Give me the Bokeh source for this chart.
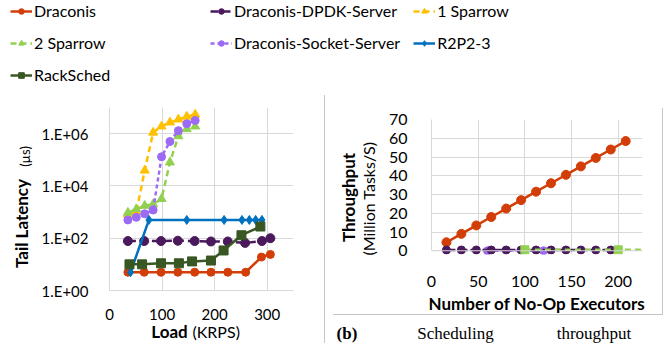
import math
from bokeh.plotting import figure
from bokeh.models import (Range1d, FixedTicker, Legend, LegendItem, Label, Div, Span,
                          ColumnDataSource, Title)
from bokeh.layouts import column, row
from bokeh.embed import file_html
from bokeh.resources import INLINE

FONT = "Lato"
SERIF = "Liberation Serif"

# ---------------- Panel (a): tail latency vs load ----------------
load_draconis = [35, 66, 98, 130, 162, 193, 225, 259, 289, 306]
lat_draconis = [5, 5, 5, 5, 5, 5, 5, 5, 19, 24]
load_dpdk = [35, 66, 98, 130, 162, 193, 225, 258, 290, 306]
lat_dpdk = [78, 78, 78, 80, 78, 75, 75, 66, 78, 100]
load_sparrow1 = [35, 51, 67, 83, 99, 115, 131, 147, 163]
lat_sparrow1 = [800, 1000, 3.9e4, 1.1e6, 1.9e6, 2.7e6, 3.5e6, 4.5e6, 5.4e6]
load_sparrow2 = [35, 51, 67, 83, 99, 115, 131, 147, 163]
lat_sparrow2 = [950, 1300, 1750, 2000, 3200, 8e4, 8e5, 1.5e6, 1.9e6]
load_socket = [35, 51, 67, 83, 99, 115, 131, 147, 163]
lat_socket = [500, 630, 860, 1200, 1.3e5, 5e5, 1.3e6, 2.4e6, 3.2e6]
load_r2p2 = [40, 75, 147, 218, 252, 266, 278, 290]
lat_r2p2 = [5, 500, 500, 500, 500, 500, 500, 500]
load_racksched = [38, 62, 98, 132, 157, 193, 217, 251, 287]
lat_racksched = [10, 10, 11, 11, 13, 14, 34, 130, 280]

load_ticks = [0, 100, 200, 300]
lat_ticks = [1, 100, 10000, 1000000]
lat_tick_labels = ["1.E+00", "1.E+02", "1.E+04", "1.E+06"]

# ---------------- Panel (b): scheduling throughput ----------------
exec_draconis = [16, 32, 48, 64, 80, 96, 112, 128, 144, 160, 176, 192, 208]
tput_draconis = [4.5, 9.0, 13.5, 18.0, 22.5, 27.0, 31.5, 36.0, 40.5, 45.0, 49.5, 54.0, 58.5]
exec_dpdk = [16, 32, 48, 64, 80, 96, 112, 128, 144, 160, 176, 192]
tput_dpdk = [0.4, 0.4, 0.4, 0.4, 0.4, 0.4, 0.4, 0.4, 0.4, 0.4, 0.4, 0.4]
exec_socket = [60, 120]
tput_socket = [0.0, 0.0]
exec_other = [100, 200, 300]
tput_other = [0.5, 0.5, 0.5]

exec_ticks = [0, 50, 100, 150, 200]
tput_ticks = [0, 10, 20, 30, 40, 50, 60, 70]

# ---------------- series styles ----------------
names = ["Draconis", "Draconis-DPDK-Server", "1 Sparrow", "2 Sparrow",
         "Draconis-Socket-Server", "R2P2-3", "RackSched"]
colors = {"Draconis": "#D33E08", "Draconis-DPDK-Server": "#4A1A5C", "1 Sparrow": "#FFC000",
          "2 Sparrow": "#92D050", "Draconis-Socket-Server": "#9C6BF5", "R2P2-3": "#0070C0",
          "RackSched": "#385723"}
markers = {"Draconis": "circle", "Draconis-DPDK-Server": "circle", "1 Sparrow": "triangle",
           "2 Sparrow": "triangle", "Draconis-Socket-Server": "circle", "R2P2-3": "diamond",
           "RackSched": "square"}
sizes = {"Draconis": 8, "Draconis-DPDK-Server": 9, "1 Sparrow": 9, "2 Sparrow": 9,
         "Draconis-Socket-Server": 8, "R2P2-3": 9, "RackSched": 9}
dashes = {"Draconis": "solid", "Draconis-DPDK-Server": "8 4", "1 Sparrow": "6 4",
          "2 Sparrow": "6 4", "Draconis-Socket-Server": "4 3", "R2P2-3": "solid",
          "RackSched": "solid"}

GRID = "#D9D9D9"
FRAME = "#C4C4C4"


def draw(p, xs, ys, name, dash=None, marker=None, color=None, size=None, lw=2.5):
    color = color or colors[name]
    src = ColumnDataSource(dict(x=xs, y=ys))
    ln = p.line("x", "y", source=src, line_color=color, line_width=lw,
                line_dash=dash or dashes[name])
    sc = p.scatter("x", "y", source=src, marker=marker or markers[name],
                   size=size or sizes[name], fill_color=color, line_color=color)
    return [ln, sc]


def style_axes(p, font_size):
    p.outline_line_color = None
    p.grid.grid_line_color = GRID
    p.axis.axis_line_color = GRID
    p.axis.major_tick_line_color = None
    p.axis.minor_tick_line_color = None
    p.axis.major_label_text_font = FONT
    p.axis.major_label_text_font_size = font_size
    p.axis.major_label_text_color = "#000000"


def text_box(w, h, x0=0, bl=0, br=0):
    """A blank figure used only to hold text labels (data units = pixels)."""
    fw = w - bl - br
    f = figure(width=w, height=h, x_range=Range1d(x0, x0 + fw), y_range=Range1d(0, h),
               x_axis_location=None, y_axis_location=None, min_border=0,
               min_border_left=bl, min_border_right=br,
               output_backend="svg", toolbar_location=None)
    f.grid.visible = False
    f.outline_line_color = None
    return f


def lab(f, x, y, text, size="16px", bold=False, angle=0.0, align="center",
        baseline="middle", font=FONT):
    f.add_layout(Label(x=x, y=y, text=text, angle=angle, text_font=font,
                       text_font_size=size, text_font_style="bold" if bold else "normal",
                       text_align=align, text_baseline=baseline, text_color="#000000"))


def rule_div(w, h, line_w, line_h, off_x, off_y):
    """An empty block that paints one thin frame line (no text, no data)."""
    return Div(width=w, height=h, margin=0, styles={
        "background-image": "linear-gradient(%s, %s)" % (FRAME, FRAME),
        "background-repeat": "no-repeat",
        "background-size": "%dpx %dpx" % (line_w, line_h),
        "background-position": "%dpx %dpx" % (off_x, off_y)})


# ---------------- legend strip ----------------
leg = figure(width=665, height=95, x_range=Range1d(0, 1), y_range=Range1d(0, 1),
             x_axis_location=None, y_axis_location=None, min_border=0,
             output_backend="svg", toolbar_location=None)
leg.grid.visible = False
leg.outline_line_color = None
items = []
for n in names:
    rs = draw(leg, [5, 6], [5, 5], n)   # outside the visible range; only the legend shows
    items.append(LegendItem(label=n, renderers=rs))
legend = Legend(items=items, location=(10, 11), orientation="horizontal", ncols=3,
                glyph_width=22, glyph_height=14, label_height=14, label_width=163,
                label_standoff=2, spacing=13, padding=0, margin=0,
                border_line_color=None, background_fill_alpha=0,
                label_text_font=FONT, label_text_font_size="16px",
                label_text_color="#000000")
leg.add_layout(legend, "center")

# ---------------- left chart ----------------
ylab_l = text_box(38, 248)
lab(ylab_l, 21, 120, "Tail Latency", size="17px", bold=True, angle=math.pi / 2)
lab(ylab_l, 24, 187, "(\u00b5s)", size="13px", angle=math.pi / 2)

left = figure(width=286, height=227, x_range=Range1d(0, 350), y_range=Range1d(1, 1e7),
              y_axis_type="log", min_border_left=62, min_border_right=31,
              min_border_top=12, min_border_bottom=32,
              output_backend="svg", toolbar_location=None)
style_axes(left, "15px")
left.xaxis.ticker = FixedTicker(ticks=load_ticks)
left.yaxis.ticker = FixedTicker(ticks=lat_ticks)
left.yaxis.major_label_overrides = dict(zip(lat_ticks, lat_tick_labels))
left.yaxis.major_label_standoff = 15
left.xaxis.major_label_standoff = 12

draw(left, load_draconis, lat_draconis, "Draconis")
draw(left, load_dpdk, lat_dpdk, "Draconis-DPDK-Server")
draw(left, load_sparrow1, lat_sparrow1, "1 Sparrow")
draw(left, load_sparrow2, lat_sparrow2, "2 Sparrow")
draw(left, load_socket, lat_socket, "Draconis-Socket-Server")
draw(left, load_r2p2, lat_r2p2, "R2P2-3")
draw(left, load_racksched, lat_racksched, "RackSched")

# same frame geometry as the chart above it (x data units = page pixels)
xlab_l = text_box(286, 21, x0=100, bl=62, br=31)
lab(xlab_l, 182, 12, "Load", size="17px", bold=True, align="right")
lab(xlab_l, 187, 12, "(KRPS)", align="left")

left_block = row(ylab_l, column(left, xlab_l))

# ---------------- separator ----------------
sep = Div(width=1, height=248, margin=0, styles={"background-color": FRAME})

# ---------------- right chart ----------------
ylab_r = text_box(60, 219)
lab(ylab_r, 23, 117, "Throughput", size="17px", bold=True, angle=math.pi / 2)
lab(ylab_r, 43, 116, "(Million Tasks/S)", angle=math.pi / 2)

right = figure(width=277, height=219, x_range=Range1d(0, 226), y_range=Range1d(-2, 70),
               min_border_left=42, min_border_right=20, min_border_top=24,
               min_border_bottom=58, output_backend="svg", toolbar_location=None)
style_axes(right, "16px")
right.xaxis.ticker = FixedTicker(ticks=exec_ticks)
right.yaxis.ticker = FixedTicker(ticks=tput_ticks)
right.yaxis.bounds = (0, 70)
right.xaxis.axis_line_color = None
right.yaxis.major_label_standoff = 18
right.xaxis.major_label_standoff = 15
right.add_layout(Span(location=0, dimension="width", line_color=GRID, line_width=1))
right.add_layout(Title(text="Number of No-Op Executors", align="center", offset=-20,
                       standoff=2, text_font=FONT, text_font_size="17px",
                       text_font_style="bold", text_color="#000000"), "below")

draw(right, exec_draconis, tput_draconis, "Draconis", size=9)
draw(right, exec_socket, tput_socket, "Draconis-Socket-Server", size=8)
draw(right, exec_dpdk, tput_dpdk, "Draconis-DPDK-Server", dash="9 3", size=8)
draw(right, exec_other, tput_other, "2 Sparrow", marker="square", size=8, dash="6 4")

# frame edges around panel (b): right edge and bottom edge
vline_r = rule_div(3, 219, 1, 206, 0, 13)
hline = rule_div(340, 1, 330, 1, 8, 0)

caption = text_box(340, 28)
lab(caption, 21.5, 10, "(b)", size="17px", bold=True, font=SERIF)
lab(caption, 130, 10, "Scheduling", size="17px", font=SERIF)
lab(caption, 268.5, 10, "throughput", size="17px", font=SERIF)

right_block = column(row(ylab_r, column(right), vline_r), hline, caption)

layout = column(leg, row(left_block, sep, right_block))

open("out.html", "w").write(file_html(layout, INLINE))
